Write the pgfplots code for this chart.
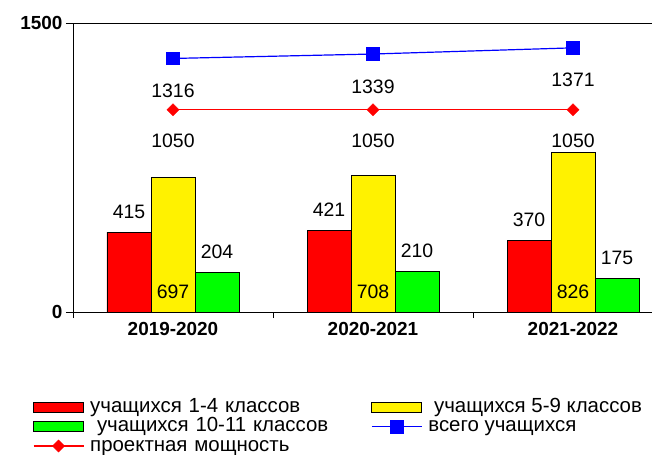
\documentclass[border=0pt]{standalone}
\usepackage{pgfplots}
\pgfplotsset{compat=1.18}
\usepackage{fontspec}
\setmainfont{Liberation Sans}
\newcommand{\lab}{\fontsize{19.5}{22}\selectfont}
\begin{document}
\begin{tikzpicture}
\useasboundingbox (-73bp,-143bp) rectangle (579bp,312bp);
\begin{axis}[
  at={(0,0)}, anchor=south west,
  scale only axis, width=579bp, height=289bp,
  xmin=-0.5, xmax=2.395, ymin=0, ymax=1500,
  axis x line*=bottom, axis y line*=left,
  axis line style={-, line width=0.9bp, black},
  xtick={0,1,2}, xticklabels={2019-2020,2020-2021,2021-2022},
  major x tick style={draw=none},
  minor xtick={-0.5,0.5,1.5},
  minor tick length=6bp,
  ytick={0,1500}, major tick length=7bp, tick align=outside,
  tick style={black, line width=0.9bp},
  /pgf/number format/assume math mode=true,
  /pgf/number format/1000 sep={},
  ticklabel style={font=\fontsize{19}{22}\selectfont\bfseries},
  clip=false,
  legend columns=2,
  legend style={at={(axis description cs:0,0)}, anchor=north west,
    xshift=-40bp, yshift=-86bp, draw=none, fill=none,
    inner sep=0pt, outer sep=0pt, row sep=0pt,
    font=\fontsize{20.5}{22}\selectfont,
    nodes={inner sep=0pt, text height=14bp, text depth=5.5bp, anchor=base west},
    /tikz/every odd column/.style={column sep=6bp},
    /tikz/column 2/.style={text width=281bp},
  },
  barleg/.style={legend image code/.code={\draw[##1,/tikz/.cd,line width=0.9bp,draw=black] (0bp,0bp) rectangle (50bp,10bp);}},
  lineleg/.style={legend image code/.code={\draw[mark repeat=2,mark phase=2,##1] plot coordinates {(0bp,5bp) (25bp,5bp) (50bp,5bp)};}},
  lbl/.style 2 args={nodes near coords, point meta=explicit symbolic,
    every node near coord/.append style={anchor=base, yshift=#1, xshift=#2, text=black, font=\lab}},
]
\addplot[ybar, bar width=44bp, bar shift=-44bp, fill=red, draw=black, line width=0.9bp, lbl={14bp}{-44bp}, barleg]
  coordinates {(0,415)[415] (1,421)[421] (2,370)[370]};
\addplot[ybar, bar width=44bp, bar shift=0bp, fill=yellow, draw=black, line width=0.9bp, barleg]
  coordinates {(0,697) (1,708) (2,826)};
\addplot[ybar, bar width=44bp, bar shift=44bp, fill=green, draw=black, line width=0.9bp, lbl={14bp}{44bp}, barleg]
  coordinates {(0,204)[204] (1,210)[210] (2,175)[175]};
\addplot[blue, line width=1.2bp, mark=square*, mark size=6.3bp, mark options={solid, fill=blue, line width=0.6bp}, lbl={-39bp}{0bp}, lineleg]
  coordinates {(0,1316)[1316] (1,1339)[1339] (2,1371)[1371]};
\addplot[red, line width=1.2bp, mark=square*, mark size=4.2bp, mark options={solid, fill=red, rotate=45, line width=0.6bp}, lbl={-37.5bp}{0bp}, lineleg]
  coordinates {(0,1050)[1050] (1,1050)[1050] (2,1050)[1050]};
\addplot[draw=none, forget plot, lbl={14bp}{0bp}]
  coordinates {(0,0)[697] (1,0)[708] (2,0)[826]};
\legend{учащихся 1-4 классов, \ учащихся 5-9 классов, \ учащихся 10-11 классов, всего учащихся, проектная мощность}
\draw[line width=0.9bp, black] (rel axis cs:0,1) -- (rel axis cs:1,1);
\end{axis}
\end{tikzpicture}
\end{document}
